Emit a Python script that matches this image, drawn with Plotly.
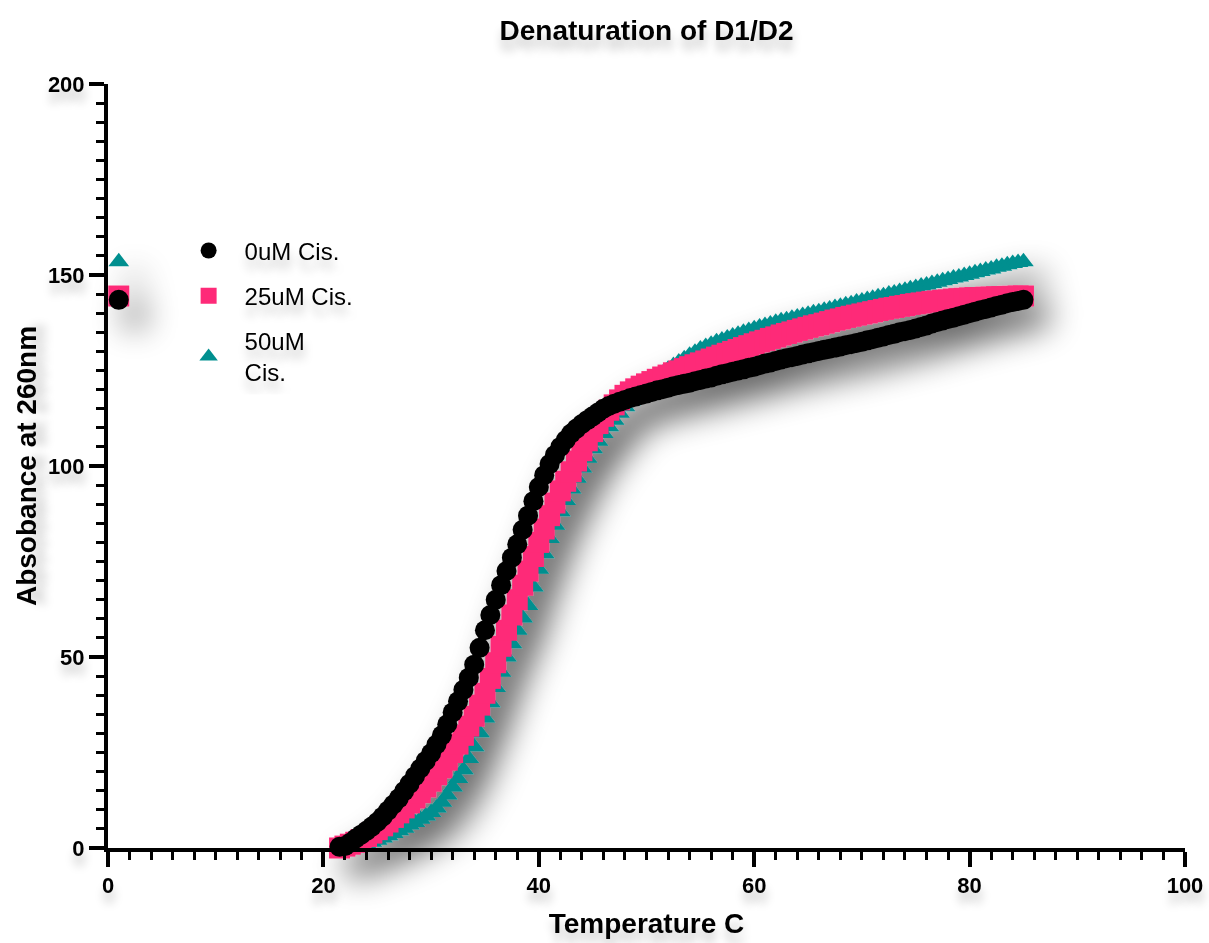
import plotly.graph_objects as go

# Temperature ramp (deg C); the first row is the stray reading logged at 1 C
temps = [
    1.0,
    21.5, 22.0, 22.5, 23.0, 23.5, 24.0, 24.5, 25.0,
    25.5, 26.0, 26.5, 27.0, 27.5, 28.0, 28.5, 29.0, 29.5, 30.0,
    30.5, 31.0, 31.5, 32.0, 32.5, 33.0, 33.5, 34.0, 34.5, 35.0,
    35.5, 36.0, 36.5, 37.0, 37.5, 38.0, 38.5, 39.0, 39.5, 40.0,
    40.5, 41.0, 41.5, 42.0, 42.5, 43.0, 43.5, 44.0, 44.5, 45.0,
    45.5, 46.0, 46.5, 47.0, 47.5, 48.0, 48.5, 49.0, 49.5, 50.0,
    50.5, 51.0, 51.5, 52.0, 52.5, 53.0, 53.5, 54.0, 54.5, 55.0,
    55.5, 56.0, 56.5, 57.0, 57.5, 58.0, 58.5, 59.0, 59.5, 60.0,
    60.5, 61.0, 61.5, 62.0, 62.5, 63.0, 63.5, 64.0, 64.5, 65.0,
    65.5, 66.0, 66.5, 67.0, 67.5, 68.0, 68.5, 69.0, 69.5, 70.0,
    70.5, 71.0, 71.5, 72.0, 72.5, 73.0, 73.5, 74.0, 74.5, 75.0,
    75.5, 76.0, 76.5, 77.0, 77.5, 78.0, 78.5, 79.0, 79.5, 80.0,
    80.5, 81.0, 81.5, 82.0, 82.5, 83.0, 83.5, 84.0, 84.5, 85.0,
]

# Absorbance at 260 nm, 0 uM cisplatin
abs_0uM = [
    143.5,
    0.3, 0.5, 1.4, 2.5, 3.5, 4.5, 5.6, 6.8,
    8.2, 9.8, 11.4, 13.0, 14.9, 16.8, 18.8, 20.8, 22.8, 24.8,
    27.1, 29.5, 32.4, 35.5, 38.4, 41.4, 44.6, 48.0, 52.4, 57.0,
    61.0, 65.0, 68.8, 72.5, 76.0, 79.5, 83.3, 87.0, 90.8, 94.5,
    97.6, 100.5, 102.9, 105.0, 106.8, 108.5, 109.8, 111.0, 112.0, 113.0,
    114.0, 115.0, 115.7, 116.3, 116.8, 117.3, 117.8, 118.2, 118.6, 119.0,
    119.4, 119.8, 120.1, 120.5, 120.9, 121.2, 121.5, 121.8, 122.2, 122.5,
    122.9, 123.2, 123.6, 124.0, 124.3, 124.7, 125.0, 125.3, 125.7, 126.0,
    126.4, 126.8, 127.1, 127.5, 127.9, 128.2, 128.5, 128.8, 129.2, 129.5,
    129.8, 130.1, 130.4, 130.7, 131.0, 131.3, 131.6, 131.9, 132.2, 132.5,
    132.9, 133.2, 133.6, 133.9, 134.3, 134.6, 135.0, 135.3, 135.6, 136.0,
    136.4, 136.8, 137.3, 137.7, 138.1, 138.5, 138.8, 139.2, 139.6, 140.0,
    140.4, 140.8, 141.1, 141.5, 141.9, 142.2, 142.6, 142.9, 143.2, 143.5,
]

# Absorbance at 260 nm, 25 uM cisplatin
abs_25uM = [
    144.5,
    0.0, 0.5, 1.0, 1.5, 2.2, 3.0, 3.9, 4.8,
    5.8, 6.8, 8.0, 9.2, 10.5, 11.8, 13.1, 14.5, 16.0, 17.5,
    19.2, 21.0, 23.0, 25.0, 27.2, 29.5, 31.9, 34.5, 37.4, 40.5,
    44.4, 48.5, 52.8, 57.0, 61.0, 65.0, 68.8, 72.5, 76.3, 80.0,
    83.5, 87.0, 90.3, 93.5, 96.0, 98.5, 101.3, 104.0, 106.6, 109.0,
    111.1, 113.0, 114.6, 116.0, 117.3, 118.5, 119.4, 120.2, 120.9, 121.5,
    122.1, 122.7, 123.3, 123.8, 124.4, 124.9, 125.5, 126.0, 126.5, 127.0,
    127.5, 128.0, 128.5, 129.0, 129.5, 130.0, 130.5, 131.0, 131.5, 132.0,
    132.5, 132.9, 133.4, 133.8, 134.3, 134.7, 135.1, 135.5, 135.9, 136.3,
    136.7, 137.0, 137.4, 137.8, 138.2, 138.5, 138.9, 139.2, 139.5, 139.8,
    140.1, 140.4, 140.7, 141.0, 141.3, 141.5, 141.8, 142.0, 142.3, 142.5,
    142.7, 142.9, 143.1, 143.2, 143.4, 143.5, 143.7, 143.8, 143.9, 144.0,
    144.1, 144.1, 144.2, 144.2, 144.3, 144.3, 144.4, 144.4, 144.5, 144.5,
]

# Absorbance at 260 nm, 50 uM cisplatin
abs_50uM = [
    153.5,
    0.0, 0.1, 0.2, 0.4, 0.7, 1.0, 1.5, 2.0,
    2.6, 3.2, 3.8, 4.5, 5.2, 6.0, 6.7, 7.5, 8.4, 9.3,
    10.5, 12.0, 13.9, 16.0, 18.2, 20.5, 23.4, 26.5, 30.2, 34.0,
    38.0, 42.0, 46.0, 50.0, 53.5, 57.0, 60.2, 63.5, 68.3, 73.0,
    77.0, 81.0, 84.5, 88.0, 91.0, 94.0, 96.8, 99.5, 102.0, 104.5,
    106.5, 108.5, 110.3, 112.0, 113.8, 115.5, 117.0, 118.5, 119.8, 121.0,
    122.2, 123.3, 124.3, 125.3, 126.3, 127.2, 128.1, 129.0, 129.8, 130.6,
    131.3, 131.9, 132.5, 133.0, 133.5, 134.0, 134.5, 135.0, 135.5, 135.9,
    136.4, 136.8, 137.2, 137.6, 138.0, 138.3, 138.7, 139.0, 139.4, 139.7,
    140.1, 140.4, 140.8, 141.1, 141.5, 141.8, 142.2, 142.5, 142.9, 143.2,
    143.6, 143.9, 144.3, 144.6, 145.0, 145.3, 145.7, 146.0, 146.4, 146.7,
    147.1, 147.4, 147.8, 148.1, 148.5, 148.8, 149.2, 149.5, 149.9, 150.2,
    150.6, 150.9, 151.3, 151.6, 152.0, 152.3, 152.7, 153.0, 153.3, 153.5,
]

FONT = "Liberation Sans, Arial, Helvetica, sans-serif"
BLACK = "#000000"
PINK = "#FE2A78"
TEAL = "#008F8F"
TEXT_SHADOW = "1px 10px 10px rgba(0,0,0,0.22)"

fig = go.Figure()

# Draw order: 50 uM underneath, then 25 uM, then 0 uM on top
fig.add_trace(go.Scatter(
    x=temps, y=abs_50uM, mode="markers", name="50uM<br>Cis.",
    legendrank=3, legendgroup="c50", cliponaxis=False,
    marker=dict(symbol="triangle-up", size=18, color=TEAL, line=dict(width=0)),
))
fig.add_trace(go.Scatter(
    x=temps, y=abs_25uM, mode="markers", name="25uM Cis.",
    legendrank=2, legendgroup="c25", cliponaxis=False,
    marker=dict(symbol="square", size=21, color=PINK, line=dict(width=0)),
))
fig.add_trace(go.Scatter(
    x=temps, y=abs_0uM, mode="markers", name="0uM Cis.",
    legendrank=1, legendgroup="c0", cliponaxis=False,
    marker=dict(symbol="circle", size=20, color=BLACK, line=dict(width=0)),
))

axis_common = dict(
    showgrid=False, zeroline=False,
    showline=True, linewidth=4, linecolor=BLACK,
    ticks="outside", tickwidth=4, tickcolor=BLACK, ticklen=15,
    tickfont=dict(family=FONT, size=22, color=BLACK, weight="bold",
                  shadow=TEXT_SHADOW),
)

fig.update_xaxes(
    range=[0, 100], tick0=0, dtick=20,
    minor=dict(ticks="outside", dtick=2, ticklen=8, tickwidth=3, tickcolor=BLACK),
    title=dict(text="Temperature C", standoff=17,
               font=dict(family=FONT, size=28, color=BLACK, weight="bold",
                         shadow=TEXT_SHADOW)),
    **axis_common,
)
fig.update_yaxes(
    range=[0, 200], tick0=0, dtick=50,
    minor=dict(ticks="outside", dtick=5, ticklen=8, tickwidth=3, tickcolor=BLACK),
    title=dict(text="Absobance at 260nm", standoff=4,
               font=dict(family=FONT, size=28, color=BLACK, weight="bold",
                         shadow=TEXT_SHADOW)),
    **axis_common,
)

fig.update_layout(
    width=1209, height=943,
    margin=dict(l=108, r=24, t=84, b=95, autoexpand=False),
    paper_bgcolor="white", plot_bgcolor="white",
    title=dict(text="Denaturation of D1/D2", x=0.5, xref="paper",
               y=1 - 30 / 943, yref="container", yanchor="middle",
               font=dict(family=FONT, size=28, color=BLACK, weight="bold",
                         shadow=TEXT_SHADOW)),
    legend=dict(
        x=0.06, y=0.811, xanchor="left", yanchor="top",
        bgcolor="rgba(0,0,0,0)", borderwidth=0,
        font=dict(family=FONT, size=24, color=BLACK, shadow=TEXT_SHADOW),
        tracegroupgap=11, itemsizing="trace", itemwidth=62,
    ),
    showlegend=True,
)

# Soft drop shadow under the marker layer
shadow_js = """
var gd = document.getElementById('{plot_id}');
function addCurveShadow() {
  var svg = gd.querySelector('svg.main-svg');
  if (!svg) { return; }
  var ns = 'http://www.w3.org/2000/svg';
  if (!document.getElementById('curve-shadow')) {
    var defs = document.createElementNS(ns, 'defs');
    defs.innerHTML =
      '<filter id="curve-shadow" x="-20%" y="-20%" width="150%" height="150%">' +
      '<feGaussianBlur in="SourceAlpha" stdDeviation="16" result="blur"/>' +
      '<feOffset in="blur" dx="16" dy="18" result="off"/>' +
      '<feComponentTransfer in="off" result="soft">' +
      '<feFuncA type="linear" slope="0.6"/></feComponentTransfer>' +
      '<feMerge><feMergeNode in="soft"/><feMergeNode in="SourceGraphic"/></feMerge>' +
      '</filter>';
    svg.insertBefore(defs, svg.firstChild);
  }
  gd.querySelectorAll('.scatterlayer').forEach(function (g) {
    g.setAttribute('filter', 'url(#curve-shadow)');
  });
}
addCurveShadow();
gd.on('plotly_afterplot', addCurveShadow);
"""

fig.write_html("out.html", post_script=shadow_js)
